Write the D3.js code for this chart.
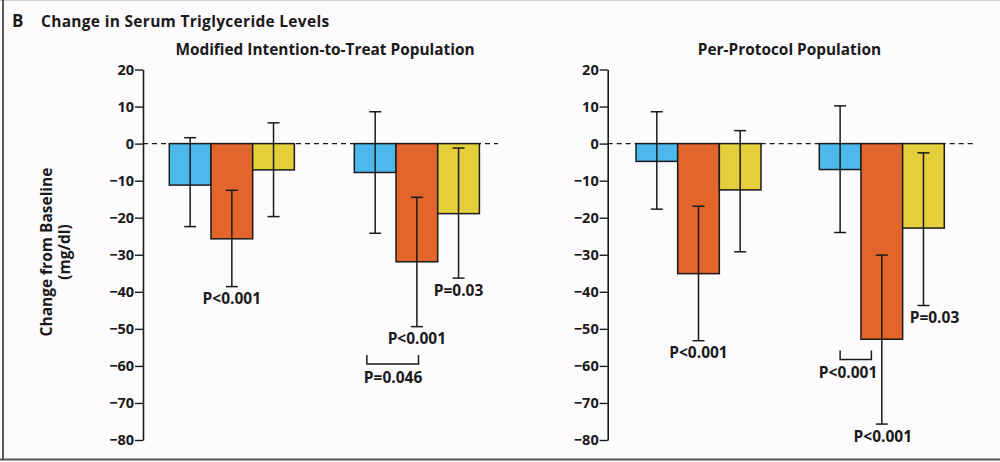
<!DOCTYPE html>
<html>
<head>
<meta charset="utf-8">
<script src="https://cdn.jsdelivr.net/npm/d3@7"></script>
<style>
  html, body { margin: 0; padding: 0; background: #fefbfe; }
  svg { display: block; font-family: "Open Sans", Lato, sans-serif; }
</style>
</head>
<body>
<svg id="chart" width="1000" height="462"></svg>
<script>
// Tick values of the shared y axis (mg/dl change)
const yTicks = [20, 10, 0, -10, -20, -30, -40, -50, -60, -70, -80];
// Two time points per panel, three treatment arms per time point
const timepoints = ["t1", "t2"];
const arms = ["armA", "armB", "armC"];
const armColors = ["#4cb9ec", "#e2662c", "#e4cf3b"];

// Modified intention-to-treat population: mean change, lower and upper error limits
const mittMean = [[-11.2, -25.7, -7.1], [-7.8, -31.9, -18.9]];
const mittLow  = [[-22.4, -38.6, -19.7], [-24.2, -49.4, -36.3]];
const mittHigh = [[1.6, -12.6, 5.6], [8.6, -14.5, -1.2]];

// Per-protocol population
const ppMean = [[-4.8, -35.1, -12.5], [-7.0, -52.8, -22.8]];
const ppLow  = [[-17.7, -53.2, -29.2], [-24.0, -75.7, -43.7]];
const ppHigh = [[8.6, -16.9, 3.5], [10.2, -30.1, -2.5]];

// P values printed under error bars: [timepoint index, arm index, label]
const mittPvals = [[0, 1, "P<0.001"], [1, 1, "P<0.001"], [1, 2, "P=0.03"]];
const ppPvals   = [[0, 1, "P<0.001"], [1, 2, "P=0.03"], [1, 1, "P<0.001"]];
// Between-arm comparison brackets: [timepoint index, bracket level (mg/dl), label]
const mittBrackets = [[1, -59.5, "P=0.046"]];
const ppBrackets   = [[1, -58.3, "P<0.001"]];

const svg = d3.select("#chart");
const ink = "#1a1a1a";
const FONT = 700;

// frame
svg.append("line").attr("x1", 0).attr("x2", 1000).attr("y1", 0.5).attr("y2", 0.5)
  .attr("stroke", "#cfcfcf").attr("stroke-width", 1);
svg.append("line").attr("x1", 3).attr("x2", 3).attr("y1", 0).attr("y2", 459)
  .attr("stroke", "#333").attr("stroke-width", 1.6);
svg.append("line").attr("x1", 0).attr("x2", 1000).attr("y1", 459.5).attr("y2", 459.5)
  .attr("stroke", "#555").attr("stroke-width", 2);

// heading
svg.append("text").attr("x", 12).attr("y", 27).attr("font-size", 17).attr("font-weight", 700)
  .attr("fill", ink).text("B");
svg.append("text").attr("x", 41).attr("y", 27).attr("font-size", 15.5).attr("font-weight", FONT)
  .attr("fill", ink).attr("letter-spacing", 0.3).text("Change in Serum Triglyceride Levels");

// y-axis title (two lines, rotated)
const yTitle = svg.append("g").attr("transform", "translate(52,252) rotate(-90)");
yTitle.append("text").attr("x", 0).attr("y", 0).attr("text-anchor", "middle")
  .attr("font-size", 15.5).attr("font-weight", FONT).attr("fill", ink).text("Change from Baseline");
yTitle.append("text").attr("x", 0).attr("y", 18).attr("text-anchor", "middle")
  .attr("font-size", 15.5).attr("font-weight", FONT).attr("fill", ink).text("(mg/dl)");

const y = d3.scaleLinear().domain([-80, 20]).range([440, 69.5]);
const fmt = d => d < 0 ? "\u2212" + Math.abs(d) : String(d);

function panel(cfg) {
  const g = svg.append("g");
  const x0 = d3.scaleBand().domain(timepoints).range(cfg.groupRange)
    .paddingInner(cfg.padInner).paddingOuter(0);
  const x1 = d3.scaleBand().domain(arms).range([0, x0.bandwidth()]).padding(0);
  const bw = x1.bandwidth();
  const cx = (ti, ai) => x0(timepoints[ti]) + x1(arms[ai]) + bw / 2;

  // title
  g.append("text").attr("x", cfg.titleX).attr("y", 55).attr("text-anchor", "middle")
    .attr("font-size", 15.4).attr("font-weight", FONT).attr("fill", ink).text(cfg.title);

  // axis
  const axis = g.append("g").attr("transform", `translate(${cfg.axisX},0)`)
    .call(d3.axisLeft(y).tickValues(yTicks).tickFormat(fmt).tickSize(8).tickSizeOuter(0).tickPadding(1));
  axis.select(".domain").attr("stroke", ink).attr("stroke-width", 1.6);
  axis.selectAll(".tick line").attr("stroke", ink).attr("stroke-width", 1.4);
  axis.selectAll(".tick text").attr("font-size", 14.5).attr("font-weight", FONT)
    .attr("fill", ink).attr("font-family", "'Open Sans', sans-serif");

  // zero reference line
  g.append("line").attr("x1", cfg.axisX).attr("x2", cfg.zeroEnd)
    .attr("y1", y(0)).attr("y2", y(0))
    .attr("stroke", ink).attr("stroke-width", 1.4).attr("stroke-dasharray", "5,4");

  // bars
  const rows = [];
  timepoints.forEach((t, ti) => arms.forEach((a, ai) => rows.push({
    ti, ai, mean: cfg.mean[ti][ai], low: cfg.low[ti][ai], high: cfg.high[ti][ai]
  })));

  g.selectAll("rect.bar").data(rows).join("rect").attr("class", "bar")
    .attr("x", d => x0(timepoints[d.ti]) + x1(arms[d.ai]))
    .attr("width", bw)
    .attr("y", d => y(Math.max(0, d.mean)))
    .attr("height", d => Math.abs(y(d.mean) - y(0)))
    .attr("fill", d => armColors[d.ai])
    .attr("stroke", ink).attr("stroke-width", 1.5);

  // error bars
  const cap = 6;
  const eb = g.selectAll("g.err").data(rows).join("g").attr("class", "err")
    .attr("stroke", ink).attr("stroke-width", 1.5);
  eb.append("line").attr("x1", d => cx(d.ti, d.ai)).attr("x2", d => cx(d.ti, d.ai))
    .attr("y1", d => y(d.high)).attr("y2", d => y(d.low));
  eb.append("line").attr("x1", d => cx(d.ti, d.ai) - cap).attr("x2", d => cx(d.ti, d.ai) + cap)
    .attr("y1", d => y(d.high)).attr("y2", d => y(d.high));
  eb.append("line").attr("x1", d => cx(d.ti, d.ai) - cap).attr("x2", d => cx(d.ti, d.ai) + cap)
    .attr("y1", d => y(d.low)).attr("y2", d => y(d.low));

  // P values under error bars
  g.selectAll("text.pval").data(cfg.pvals).join("text").attr("class", "pval")
    .attr("x", (d, i) => cx(d[0], d[1]) + cfg.pvalShift[i])
    .attr("y", d => y(cfg.low[d[0]][d[1]]) + 17.5)
    .attr("text-anchor", "middle").attr("font-size", 15.5).attr("font-weight", FONT)
    .attr("fill", ink).text(d => d[2]);

  // comparison brackets
  cfg.brackets.forEach(b => {
    const gx = x0(timepoints[b[0]]);
    const xa = gx + cfg.bracketSpan[0] * bw, xb = gx + cfg.bracketSpan[1] * bw;
    const yb = y(b[1]);
    g.append("path").attr("d", `M${xa},${yb - 9}V${yb}H${xb}V${yb - 9}`)
      .attr("fill", "none").attr("stroke", ink).attr("stroke-width", 1.5);
    g.append("text").attr("x", gx + cfg.bracketLabel * bw).attr("y", yb + 18.5)
      .attr("text-anchor", "middle").attr("font-size", 15.5).attr("font-weight", FONT)
      .attr("fill", ink).text(b[2]);
  });
}

panel({
  title: "Modified Intention-to-Treat Population", titleX: 325,
  axisX: 143, zeroEnd: 498, groupRange: [169.3, 479.4], padInner: 0.324,
  mean: mittMean, low: mittLow, high: mittHigh, pvals: mittPvals, pvalShift: [0, 0, 0],
  brackets: mittBrackets, bracketSpan: [0.3, 1.54], bracketLabel: 0.93
});

panel({
  title: "Per-Protocol Population", titleX: 789.5,
  axisX: 607.7, zeroEnd: 973, groupRange: [636, 944.3], padInner: 0.318,
  mean: ppMean, low: ppLow, high: ppHigh, pvals: ppPvals, pvalShift: [0, 11, 1],
  brackets: ppBrackets, bracketSpan: [0.5, 1.25], bracketLabel: 0.69
});
</script>
</body>
</html>
